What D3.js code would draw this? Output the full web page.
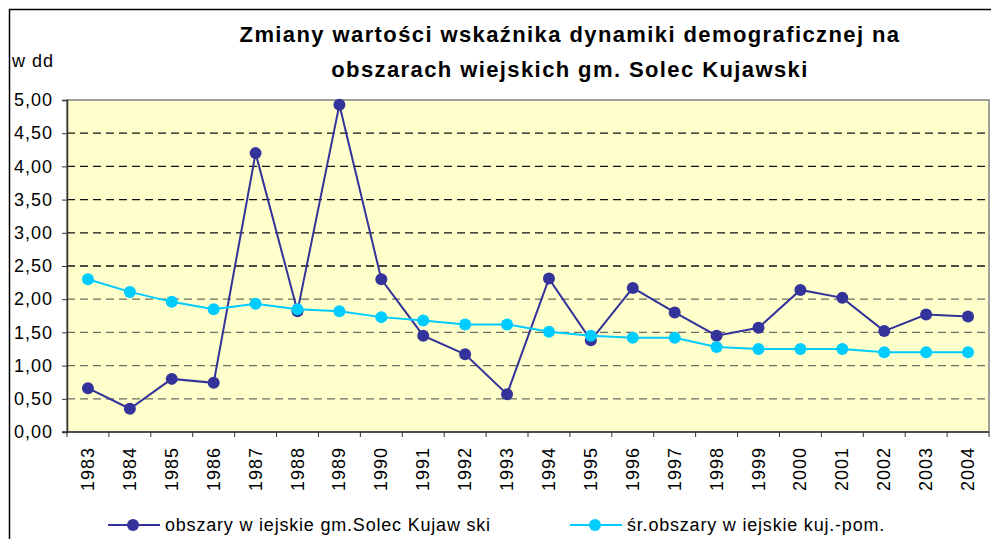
<!DOCTYPE html>
<meta charset="utf-8">
<style>
  body { margin: 0; background: #fff; }
  svg { font-family: "Liberation Sans", Arial, sans-serif; }
</style>
<svg width="991" height="539"></svg>
<script src="https://d3js.org/d3.v7.min.js"></script>
<script>

var years = ["1983","1984","1985","1986","1987","1988","1989","1990","1991","1992","1993",
             "1994","1995","1996","1997","1998","1999","2000","2001","2002","2003","2004"];

var gminaValues = [0.66, 0.35, 0.80, 0.74, 4.20, 1.82, 4.93, 2.30, 1.45, 1.17, 0.57,
                   2.31, 1.38, 2.17, 1.80, 1.45, 1.57, 2.14, 2.02, 1.52, 1.77, 1.74];

var regionValues = [2.30, 2.11, 1.96, 1.85, 1.93, 1.85, 1.82, 1.73, 1.68, 1.62, 1.62,
                    1.51, 1.45, 1.42, 1.42, 1.28, 1.25, 1.25, 1.25, 1.20, 1.20, 1.20];

var seriesNames = ["obszary w iejskie gm.Solec Kujaw ski", "śr.obszary w iejskie kuj.-pom."];
var seriesColors = ["#333399", "#00ccff"];

var yTicks = [0, 0.5, 1, 1.5, 2, 2.5, 3, 3.5, 4, 4.5, 5];

var svg = d3.select("svg");

// outer chart frame (runs off the right / bottom edge of the picture)
svg.append("rect")
    .attr("x", 9.5).attr("y", 9.5)
    .attr("width", 1000).attr("height", 600)
    .attr("fill", "#fff")
    .attr("stroke", "#000")
    .attr("stroke-width", 1.5);

var x = d3.scaleBand().domain(years).range([67, 989]).padding(0);
var y = d3.scaleLinear().domain([0, 5]).range([432, 100]);

// plot area
svg.append("rect")
    .attr("x", x.range()[0]).attr("y", y(5))
    .attr("width", x.range()[1] - x.range()[0])
    .attr("height", y(0) - y(5))
    .attr("fill", "#ffffcc")
    .attr("stroke", "#808080")
    .attr("stroke-width", 1.5);

// dashed grid lines (the lower ones come out greyer in the original)
svg.append("g")
    .selectAll("line")
    .data(yTicks.filter(function(d) { return d > 0 && d < 5; }))
    .enter().append("line")
    .attr("x1", x.range()[0]).attr("x2", x.range()[1])
    .attr("y1", function(d) { return y(d); })
    .attr("y2", function(d) { return y(d); })
    .attr("stroke", function(d) { return d >= 2.5 ? "#111" : "#6e6e62"; })
    .attr("stroke-width", 1.3)
    .attr("stroke-dasharray", "8,5");

// y axis
var yAxis = svg.append("g")
    .attr("transform", "translate(" + x.range()[0] + ",0)")
    .call(d3.axisLeft(y)
        .tickValues(yTicks)
        .tickSize(5)
        .tickPadding(9)
        .tickFormat(function(d) { return d3.format(".2f")(d).replace(".", ","); }));
yAxis.select(".domain").attr("stroke", "#333").attr("stroke-width", 1.5);
yAxis.selectAll(".tick line").attr("stroke", "#333");
yAxis.selectAll("text")
    .attr("font-size", 18)
    .attr("letter-spacing", 1)
    .attr("fill", "#000")
    .attr("font-family", "'Liberation Sans', Arial, sans-serif");

// x axis: ticks sit between categories
var xAxis = svg.append("g")
    .attr("transform", "translate(0," + y(0) + ")");
xAxis.append("line")
    .attr("x1", x.range()[0] - 5).attr("x2", x.range()[1])
    .attr("stroke", "#333").attr("stroke-width", 1.5);
xAxis.selectAll(".tk")
    .data(years)
    .enter().append("line")
    .attr("class", "tk")
    .attr("x1", function(d) { return x(d) + x.bandwidth(); })
    .attr("x2", function(d) { return x(d) + x.bandwidth(); })
    .attr("y1", 0).attr("y2", 5)
    .attr("stroke", "#333");
xAxis.append("line")
    .attr("x1", x.range()[0]).attr("x2", x.range()[0])
    .attr("y1", 0).attr("y2", 5)
    .attr("stroke", "#333");
xAxis.selectAll("text")
    .data(years)
    .enter().append("text")
    .attr("transform", function(d) {
        return "translate(" + (x(d) + x.bandwidth() / 2 + 6) + ",15) rotate(-90)";
    })
    .attr("text-anchor", "end")
    .attr("font-size", 18)
    .attr("letter-spacing", 1)
    .text(function(d) { return d; });

// lines and markers
var line = d3.line()
    .x(function(d, i) { return x(years[i]) + x.bandwidth() / 2; })
    .y(function(d) { return y(d); });

[gminaValues, regionValues].forEach(function(vals, k) {
    svg.append("path")
        .datum(vals)
        .attr("d", line)
        .attr("fill", "none")
        .attr("stroke", seriesColors[k])
        .attr("stroke-width", 2);
    svg.append("g")
        .selectAll("circle")
        .data(vals)
        .enter().append("circle")
        .attr("cx", function(d, i) { return x(years[i]) + x.bandwidth() / 2; })
        .attr("cy", function(d) { return y(d); })
        .attr("r", 6)
        .attr("fill", seriesColors[k]);
});

// title
var title = svg.append("text")
    .attr("text-anchor", "middle")
    .attr("font-size", 22)
    .attr("font-weight", "bold")
    .attr("letter-spacing", 1.4);
title.append("tspan").attr("x", 570).attr("y", 42)
    .text("Zmiany wartości wskaźnika dynamiki demograficznej na");
title.append("tspan").attr("x", 570).attr("y", 77)
    .text("obszarach wiejskich gm. Solec Kujawski");

// y axis unit
svg.append("text")
    .attr("x", 12).attr("y", 67)
    .attr("font-size", 18)
    .attr("letter-spacing", 1)
    .text("w dd");

// legend
var legendX = [108, 570];
seriesNames.forEach(function(name, k) {
    var g = svg.append("g").attr("transform", "translate(" + legendX[k] + ",525)");
    g.append("line").attr("x1", 0).attr("x2", 52)
        .attr("stroke", seriesColors[k]).attr("stroke-width", 2);
    g.append("circle").attr("cx", 25).attr("r", 6).attr("fill", seriesColors[k]);
    g.append("text").attr("x", 57).attr("y", 6)
        .attr("font-size", 18)
        .attr("letter-spacing", 0.8)
        .text(name);
});

</script>
